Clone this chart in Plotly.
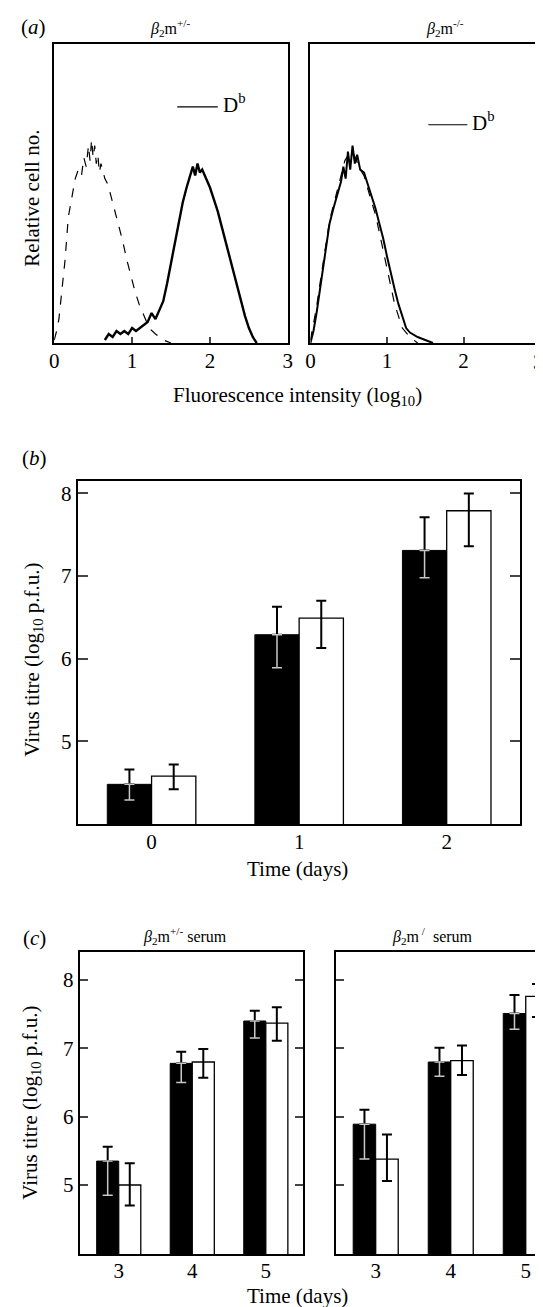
import plotly.graph_objects as go

# ---------------- data ----------------
# Panel (a): flow histograms (relative cell number vs log10 fluorescence)
het_ctrl_x = [0.0, 0.03, 0.06, 0.10, 0.14, 0.18, 0.23, 0.27, 0.31, 0.35, 0.38, 0.41, 0.44, 0.46, 0.48, 0.50,
              0.52, 0.54, 0.56, 0.58, 0.60, 0.65, 0.69, 0.74, 0.79, 0.84, 0.88, 0.93, 0.98, 1.04, 1.09,
              1.15, 1.22, 1.30, 1.40, 1.50]
het_ctrl_y = [0.01, 0.04, 0.08, 0.18, 0.28, 0.42, 0.50, 0.55, 0.58, 0.56, 0.62, 0.59, 0.66, 0.61, 0.68, 0.62,
              0.66, 0.60, 0.63, 0.57, 0.60, 0.55, 0.53, 0.48, 0.43, 0.38, 0.34, 0.28, 0.23, 0.17, 0.13,
              0.09, 0.05, 0.03, 0.01, 0.0]
het_db_x = [0.65, 0.70, 0.75, 0.80, 0.85, 0.90, 0.95, 1.00, 1.05, 1.10, 1.15, 1.20, 1.25, 1.30, 1.35, 1.40,
            1.45, 1.50, 1.55, 1.60, 1.65, 1.70, 1.75, 1.78, 1.81, 1.84, 1.87, 1.90, 1.95, 2.00, 2.05,
            2.10, 2.15, 2.20, 2.25, 2.30, 2.35, 2.40, 2.45, 2.50, 2.55, 2.60]
het_db_y = [0.01, 0.03, 0.02, 0.04, 0.03, 0.04, 0.03, 0.05, 0.04, 0.05, 0.06, 0.07, 0.10, 0.08, 0.11, 0.14,
            0.20, 0.27, 0.34, 0.41, 0.47, 0.52, 0.56, 0.59, 0.56, 0.60, 0.57, 0.58, 0.55, 0.52, 0.48,
            0.44, 0.39, 0.34, 0.29, 0.24, 0.19, 0.14, 0.09, 0.05, 0.02, 0.0]

ko_ctrl_x = [0.0, 0.04, 0.08, 0.12, 0.16, 0.20, 0.25, 0.30, 0.35, 0.40, 0.45, 0.50, 0.55, 0.60, 0.65,
             0.70, 0.75, 0.80, 0.85, 0.90, 0.95, 1.00, 1.05, 1.10, 1.15, 1.20, 1.30, 1.40]
ko_ctrl_y = [0.01, 0.06, 0.12, 0.19, 0.26, 0.33, 0.41, 0.46, 0.51, 0.56, 0.61, 0.63, 0.64, 0.61, 0.58,
             0.56, 0.51, 0.47, 0.43, 0.37, 0.31, 0.25, 0.19, 0.13, 0.09, 0.05, 0.02, 0.0]
ko_db_x = [0.0, 0.04, 0.08, 0.12, 0.16, 0.20, 0.25, 0.30, 0.35, 0.40, 0.43, 0.46, 0.49, 0.52, 0.55, 0.58,
           0.61, 0.65, 0.70, 0.75, 0.80, 0.85, 0.90, 0.95, 1.00, 1.05, 1.10, 1.15, 1.20, 1.25, 1.30,
           1.40, 1.50, 1.60]
ko_db_y = [0.0, 0.04, 0.10, 0.17, 0.24, 0.31, 0.40, 0.45, 0.50, 0.54, 0.59, 0.55, 0.64, 0.58, 0.66, 0.60,
           0.63, 0.58, 0.57, 0.53, 0.49, 0.45, 0.40, 0.35, 0.29, 0.23, 0.18, 0.13, 0.09, 0.05, 0.035,
           0.02, 0.01, 0.0]

# Panel (b): virus titre vs time (days)
b_days = [0, 1, 2]
b_black = [4.48, 6.29, 7.31]
b_black_hi = [4.66, 6.63, 7.71]
b_black_lo = [4.29, 5.89, 6.98]
b_white = [4.58, 6.49, 7.79]
b_white_hi = [4.72, 6.70, 8.00]
b_white_lo = [4.42, 6.13, 7.36]

# Panel (c): virus titre, beta2m+/- serum (left) and beta2m-/- serum (right)
c_days = [3, 4, 5]
cl_black = [5.35, 6.78, 7.40]
cl_black_hi = [5.56, 6.95, 7.55]
cl_black_lo = [4.85, 6.50, 7.15]
cl_white = [5.00, 6.80, 7.37]
cl_white_hi = [5.32, 6.99, 7.60]
cl_white_lo = [4.70, 6.57, 7.11]

cr_black = [5.89, 6.80, 7.51]
cr_black_hi = [6.10, 7.01, 7.78]
cr_black_lo = [5.38, 6.59, 7.28]
cr_white = [5.38, 6.82, 7.76]
cr_white_hi = [5.74, 7.04, 7.94]
cr_white_lo = [5.06, 6.61, 7.46]

a_xticks = [0, 1, 2, 3]
bc_yticks = [5, 6, 7, 8]

# ---------------- figure ----------------
W, H = 543, 1307
FONT = "Liberation Serif"
FS = 21


def px(x):
    return x / W


def py(y):
    return 1 - y / H


fig = go.Figure()

# panel (a)
fig.add_trace(go.Scatter(x=het_ctrl_x, y=het_ctrl_y, mode="lines", xaxis="x", yaxis="y",
                         line=dict(color="black", width=1.2, dash="dash"), showlegend=False))
fig.add_trace(go.Scatter(x=het_db_x, y=het_db_y, mode="lines", xaxis="x", yaxis="y",
                         line=dict(color="black", width=2.4), showlegend=False))
fig.add_trace(go.Scatter(x=ko_ctrl_x, y=ko_ctrl_y, mode="lines", xaxis="x2", yaxis="y2",
                         line=dict(color="black", width=1.2, dash="dash"), showlegend=False))
fig.add_trace(go.Scatter(x=ko_db_x, y=ko_db_y, mode="lines", xaxis="x2", yaxis="y2",
                         line=dict(color="black", width=2.0), showlegend=False))


def diff(a, b):
    return [round(x - y, 3) for x, y in zip(a, b)]


def bar_set(xs, blk, blk_hi, blk_lo, wht, wht_hi, wht_lo, xa, ya):
    # black bars, upper error in black
    fig.add_trace(go.Bar(x=xs, y=blk, xaxis=xa, yaxis=ya, offsetgroup="a",
                         marker=dict(color="black", line=dict(color="black", width=1)),
                         error_y=dict(type="data", symmetric=False, array=diff(blk_hi, blk),
                                      arrayminus=[0] * len(blk), color="black", thickness=2, width=5),
                         showlegend=False))
    # lower error inside black bar drawn in light grey
    fig.add_trace(go.Bar(x=xs, y=blk, xaxis=xa, yaxis=ya, offsetgroup="a",
                         marker=dict(color="rgba(0,0,0,0)", line=dict(width=0)),
                         error_y=dict(type="data", symmetric=False, array=[0] * len(blk),
                                      arrayminus=diff(blk, blk_lo), color="#c8c8c8", thickness=1.5, width=5),
                         showlegend=False))
    # white bars
    fig.add_trace(go.Bar(x=xs, y=wht, xaxis=xa, yaxis=ya, offsetgroup="b",
                         marker=dict(color="white", line=dict(color="black", width=1.3)),
                         error_y=dict(type="data", symmetric=False, array=diff(wht_hi, wht),
                                      arrayminus=diff(wht, wht_lo), color="black", thickness=2, width=5),
                         showlegend=False))


bar_set(b_days, b_black, b_black_hi, b_black_lo, b_white, b_white_hi, b_white_lo, "x3", "y3")
bar_set(c_days, cl_black, cl_black_hi, cl_black_lo, cl_white, cl_white_hi, cl_white_lo, "x4", "y4")
bar_set(c_days, cr_black, cr_black_hi, cr_black_lo, cr_white, cr_white_hi, cr_white_lo, "x5", "y5")

tickfont = dict(family=FONT, size=FS, color="black")
axline = dict(showline=True, linecolor="black", linewidth=2, showgrid=False, zeroline=False,
              ticklabeloverflow="allow")

a_ydom = [py(335), py(36)]
b_ydom = [py(816), py(473)]
c_ydom = [py(1246), py(944)]

# right-hand (a) axis: the last label sits at the page edge, drawn as an annotation below
a2_ticktext = [str(v) if v != a_xticks[-1] else "" for v in a_xticks]

fig.update_layout(
    width=W, height=H, margin=dict(l=0, r=0, t=0, b=0),
    paper_bgcolor="white", plot_bgcolor="white",
    barmode="group", bargap=0.4, bargroupgap=0,
    showlegend=False,
    font=dict(family=FONT, color="black"),
    # (a) left
    xaxis=dict(domain=[px(42), px(280)], range=[0, 3], tickvals=a_xticks, ticks="inside", ticklen=6,
               tickwidth=1.5, mirror=True, tickfont=tickfont, anchor="y", ticklabelstandoff=-2, **axline),
    yaxis=dict(domain=a_ydom, range=[0, 1], showticklabels=False, ticks="", mirror=True,
               anchor="x", **axline),
    # (a) right
    xaxis2=dict(domain=[px(303), px(537)], range=[0, 3], tickvals=a_xticks, ticktext=a2_ticktext,
                ticks="inside", ticklen=6, tickwidth=1.5, mirror=True, tickfont=tickfont, anchor="y2",
                ticklabelstandoff=-2, **axline),
    yaxis2=dict(domain=a_ydom, range=[0, 1], showticklabels=False, ticks="", mirror=True,
                anchor="x2", **axline),
    # (b)
    xaxis3=dict(domain=[px(66), px(517)], range=[-0.5, 2.5], tickvals=b_days, ticks="", mirror=True,
                tickfont=tickfont, anchor="y3", ticklabelstandoff=-2, **axline),
    yaxis3=dict(domain=b_ydom, range=[4.0, 8.15], tickvals=bc_yticks, ticks="inside", ticklen=10,
                tickwidth=2, mirror="ticks", tickfont=tickfont, anchor="x3", **axline),
    # (c) left
    xaxis4=dict(domain=[px(68), px(295)], range=[2.47, 5.5], tickvals=c_days, ticks="", mirror=True,
                tickfont=tickfont, anchor="y4", ticklabelstandoff=-3, **axline),
    yaxis4=dict(domain=c_ydom, range=[3.99, 8.41], tickvals=bc_yticks, ticks="inside", ticklen=8,
                tickwidth=2, mirror="ticks", tickfont=tickfont, anchor="x4", **axline),
    # (c) right (clipped at the page edge)
    xaxis5=dict(domain=[px(329), 1.0], range=[2.47, 5.27], tickvals=c_days, ticks="", mirror=True,
                tickfont=tickfont, anchor="y5", ticklabelstandoff=-3, **axline),
    yaxis5=dict(domain=c_ydom, range=[3.99, 8.41], tickvals=bc_yticks, ticks="inside", ticklen=8,
                tickwidth=2, showticklabels=False, mirror=False, anchor="x5", **axline),
)

# legend keys in panel (a)
fig.add_shape(type="line", xref="x", yref="y", x0=1.58, x1=2.10, y0=0.79, y1=0.79,
              line=dict(color="black", width=1.2))
fig.add_shape(type="line", xref="x2", yref="y2", x0=1.54, x1=2.05, y0=0.73, y1=0.73,
              line=dict(color="black", width=1.2))


def ann(text, x, y, size=FS, angle=0, xanchor="center", xref="paper", yref="paper"):
    fig.add_annotation(text=text, x=x, y=y, xref=xref, yref=yref, showarrow=False,
                       xanchor=xanchor, yanchor="middle", textangle=angle,
                       font=dict(family=FONT, size=size, color="black"))


ann("D<sup>b</sup>", 2.14, 0.80, size=FS, xanchor="left", xref="x", yref="y")
ann("D<sup>b</sup>", 2.09, 0.74, size=FS, xanchor="left", xref="x2", yref="y2")

# last tick label of the right-hand (a) axis (at the page edge)
ann(str(a_xticks[-1]), 1.0, py(354), xanchor="right")

# panel labels
ann("(<i>a</i>)", px(21), py(19))
ann("(<i>b</i>)", px(22), py(450))
ann("(<i>c</i>)", px(22), py(930))

# subplot titles
ann("<i>β</i><sub>2</sub>m<sup>+/-</sup>", px(160), py(20), size=16)
ann("<i>β</i><sub>2</sub>m<sup>-/-</sup>", px(440), py(20), size=16)
ann("<i>β</i><sub>2</sub>m<sup>+/-</sup> serum", px(175), py(928), size=16)
ann("<i>β</i><sub>2</sub>m<sup> /</sup>  serum", px(427), py(928), size=16)

# axis titles
ann("Fluorescence intensity (log<sub>10</sub>)", px(290), py(388))
ann("Relative cell no.", px(19), py(190), angle=-90)
ann("Virus titre (log<sub>10</sub> p.f.u.)", px(20), py(652), angle=-90)
ann("Time (days)", px(290), py(861))
ann("Virus titre (log<sub>10</sub> p.f.u.)", px(18), py(1095), angle=-90)
ann("Time (days)", px(290), py(1288))

fig.write_html("out.html")
